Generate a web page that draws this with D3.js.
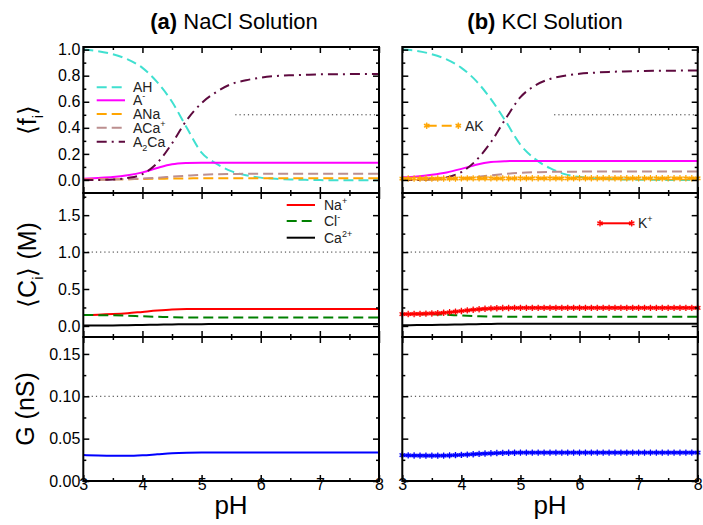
<!DOCTYPE html>
<html>
<head>
<meta charset="utf-8">
<script src="https://cdn.jsdelivr.net/npm/d3@7"></script>
<style>
  body { margin: 0; background: #fff; }
  text { font-family: "Liberation Sans", Arial, Helvetica, sans-serif; }
</style>
</head>
<body>
<div id="chart"></div>
<script>
// ---- data ----
var phGrid = [3, 3.25, 3.5, 3.75, 4, 4.25, 4.5, 4.75, 5, 5.25, 5.5, 5.75, 6, 6.25, 6.5, 6.75, 7, 7.25, 7.5, 7.75, 8];
var phFine = [3.0, 3.1, 3.2, 3.3, 3.4, 3.5, 3.6, 3.7, 3.8, 3.9,
              4.0, 4.1, 4.2, 4.3, 4.4, 4.5, 4.6, 4.7, 4.8, 4.9,
              5.0, 5.1, 5.2, 5.3, 5.4, 5.5, 5.6, 5.7, 5.8, 5.9,
              6.0, 6.1, 6.2, 6.3, 6.4, 6.5, 6.6, 6.7, 6.8, 6.9,
              7.0, 7.1, 7.2, 7.3, 7.4, 7.5, 7.6, 7.7, 7.8, 7.9, 8.0];

// (a) NaCl, fractions
var naclAH   = [1.0, 0.988, 0.965, 0.925, 0.86, 0.75, 0.60, 0.40, 0.21, 0.125, 0.068, 0.036, 0.018, 0.009, 0.004, 0.001, -0.001, -0.002, -0.003, -0.003, -0.003];
var naclA    = [0.01, 0.015, 0.022, 0.036, 0.058, 0.092, 0.12, 0.13, 0.133, 0.133, 0.133, 0.133, 0.133, 0.133, 0.133, 0.133, 0.133, 0.133, 0.133, 0.133, 0.133];
var naclANa  = [0.003, 0.004, 0.005, 0.006, 0.008, 0.009, 0.011, 0.012, 0.013, 0.013, 0.013, 0.013, 0.013, 0.013, 0.013, 0.013, 0.013, 0.013, 0.013, 0.013, 0.013];
var naclACa  = [0.0, 0.001, 0.003, 0.006, 0.01, 0.017, 0.025, 0.033, 0.04, 0.044, 0.046, 0.047, 0.048, 0.048, 0.048, 0.048, 0.048, 0.048, 0.048, 0.048, 0.048];
var naclA2Ca = [0.0, 0.0, 0.003, 0.015, 0.045, 0.13, 0.28, 0.46, 0.59, 0.675, 0.735, 0.765, 0.785, 0.797, 0.803, 0.807, 0.81, 0.811, 0.812, 0.813, 0.813];
// (b) KCl, fractions
var kclAH   = [1.0, 0.99, 0.965, 0.925, 0.86, 0.76, 0.62, 0.45, 0.27, 0.16, 0.09, 0.045, 0.022, 0.012, 0.007, 0.004, 0.002, 0.001, 0.0, 0.0, 0.0];
var kclA    = [0.02, 0.027, 0.04, 0.058, 0.085, 0.116, 0.137, 0.144, 0.146, 0.146, 0.146, 0.146, 0.146, 0.146, 0.146, 0.146, 0.146, 0.146, 0.146, 0.146, 0.146];
var kclACa  = [0.0, 0.002, 0.004, 0.007, 0.012, 0.022, 0.035, 0.047, 0.055, 0.059, 0.062, 0.063, 0.064, 0.064, 0.064, 0.064, 0.064, 0.064, 0.064, 0.064, 0.064];
var kclA2Ca = [0.0, 0.0, 0.005, 0.02, 0.06, 0.15, 0.29, 0.47, 0.635, 0.725, 0.775, 0.8, 0.815, 0.823, 0.829, 0.833, 0.835, 0.837, 0.838, 0.839, 0.84];
var kclAK   = [0.011, 0.011, 0.011, 0.011, 0.011, 0.011, 0.011, 0.011, 0.011, 0.011,
               0.012, 0.012, 0.012, 0.012, 0.012, 0.012, 0.012, 0.012, 0.012, 0.012,
               0.013, 0.013, 0.013, 0.013, 0.013, 0.013, 0.013, 0.013, 0.013, 0.013,
               0.013, 0.013, 0.013, 0.013, 0.013, 0.013, 0.013, 0.013, 0.013, 0.013,
               0.013, 0.013, 0.013, 0.013, 0.013, 0.013, 0.013, 0.013, 0.013, 0.013, 0.013];

// concentrations (M)
var naclNa = [0.148, 0.152, 0.16, 0.172, 0.19, 0.208, 0.222, 0.228, 0.229, 0.229, 0.229, 0.229, 0.229, 0.229, 0.229, 0.229, 0.229, 0.229, 0.229, 0.229, 0.229];
var naclCl = [0.148, 0.146, 0.143, 0.138, 0.13, 0.124, 0.118, 0.115, 0.113, 0.113, 0.113, 0.113, 0.113, 0.113, 0.113, 0.113, 0.113, 0.113, 0.113, 0.113, 0.113];
var naclCa = [0.005, 0.006, 0.007, 0.01, 0.013, 0.017, 0.02, 0.023, 0.024, 0.025, 0.025, 0.025, 0.025, 0.025, 0.025, 0.025, 0.025, 0.025, 0.025, 0.025, 0.025];
var kclK   = [0.16, 0.161, 0.162, 0.164, 0.166, 0.169, 0.173, 0.178, 0.185, 0.193,
              0.202, 0.211, 0.219, 0.226, 0.232, 0.237, 0.24, 0.242, 0.243, 0.244,
              0.245, 0.245, 0.245, 0.245, 0.245, 0.245, 0.245, 0.245, 0.245, 0.245,
              0.245, 0.245, 0.245, 0.245, 0.245, 0.245, 0.245, 0.245, 0.245, 0.245,
              0.245, 0.245, 0.245, 0.245, 0.245, 0.245, 0.245, 0.245, 0.245, 0.245, 0.245];
var kclCl  = [0.16, 0.16, 0.158, 0.151, 0.14, 0.133, 0.128, 0.126, 0.125, 0.125, 0.125, 0.125, 0.125, 0.125, 0.125, 0.125, 0.125, 0.125, 0.125, 0.125, 0.125];
var kclCa  = [0.01, 0.011, 0.013, 0.016, 0.02, 0.024, 0.027, 0.029, 0.03, 0.03, 0.03, 0.03, 0.03, 0.03, 0.03, 0.03, 0.03, 0.03, 0.03, 0.03, 0.03];

// conductance (nS)
var naclG = [0.0306, 0.0300, 0.0297, 0.0297, 0.0303, 0.0315, 0.0327, 0.0333, 0.0335, 0.0335, 0.0335, 0.0335, 0.0335, 0.0335, 0.0335, 0.0335, 0.0335, 0.0335, 0.0335, 0.0335, 0.0335];
var kclG  = [0.0305, 0.0303, 0.0301, 0.0300, 0.0299, 0.0299, 0.0299, 0.0300, 0.0302, 0.0305,
             0.0308, 0.0312, 0.0316, 0.0320, 0.0324, 0.0327, 0.0330, 0.0332, 0.0333, 0.0334,
             0.0335, 0.0335, 0.0335, 0.0335, 0.0335, 0.0335, 0.0335, 0.0335, 0.0335, 0.0335,
             0.0335, 0.0335, 0.0335, 0.0335, 0.0335, 0.0335, 0.0335, 0.0335, 0.0335, 0.0335,
             0.0335, 0.0335, 0.0335, 0.0335, 0.0335, 0.0335, 0.0335, 0.0335, 0.0335, 0.0335, 0.0335];

// ticks
var phTicks = [3, 4, 5, 6, 7, 8];
var phMinor = [3.5, 4.5, 5.5, 6.5, 7.5];
var fracTicks = [0, 0.2, 0.4, 0.6, 0.8, 1.0];
var fracMinor = [0.1, 0.3, 0.5, 0.7, 0.9];
var concTicks = [0, 0.5, 1.0, 1.5];
var concMinor = [0.25, 0.75, 1.25, 1.75];
var condTicks = [0, 0.05, 0.10, 0.15];
var condMinor = [0.025, 0.075, 0.125];

// dotted guide lines: [row, col, y, pH from, pH to]
var guides = [[0, 0, 0.5, 5.57, 8], [0, 1, 0.5, 5.57, 8], [1, 0, 1.0, 3, 8], [1, 1, 1.0, 3, 8], [2, 0, 0.10, 3, 8], [2, 1, 0.10, 3, 8]];

// ---- layout ----
var svg = d3.select("#chart").append("svg").attr("width", 703).attr("height", 525);
var colX = [[83.3, 379], [402.3, 697.7]];
var rowY = [[47, 193], [193, 337], [337, 481]];
var rows = [
  {domain: [-0.1, 1.02], major: fracTicks, minor: fracMinor, fmt: d3.format(".1f")},
  {domain: [-0.15, 1.8], major: concTicks, minor: concMinor, fmt: d3.format(".1f")},
  {domain: [0, 0.17], major: condTicks, minor: condMinor, fmt: d3.format(".2f")}
];

var dash = "10,5";
var dashDot = "10,5,2,5";
var panels = [
  [
    [{x: phGrid, y: naclAH, c: "#40E0D0", d: dash},
     {x: phGrid, y: naclA, c: "#FF00FF"},
     {x: phGrid, y: naclANa, c: "#FFA500", d: dash},
     {x: phGrid, y: naclACa, c: "#BC8F8F", d: dash},
     {x: phGrid, y: naclA2Ca, c: "#5E0A3F", d: dashDot}],
    [{x: phGrid, y: kclAH, c: "#40E0D0", d: dash},
     {x: phGrid, y: kclA, c: "#FF00FF"},
     {x: phGrid, y: kclACa, c: "#BC8F8F", d: dash},
     {x: phGrid, y: kclA2Ca, c: "#5E0A3F", d: dashDot},
     {x: phFine, y: kclAK, c: "#FFA500", d: dash, m: true}]
  ],
  [
    [{x: phGrid, y: naclNa, c: "#FF0000"},
     {x: phGrid, y: naclCl, c: "#008000", d: dash},
     {x: phGrid, y: naclCa, c: "#000000"}],
    [{x: phGrid, y: kclCl, c: "#008000", d: dash},
     {x: phGrid, y: kclCa, c: "#000000"},
     {x: phFine, y: kclK, c: "#FF0000", m: true}]
  ],
  [
    [{x: phGrid, y: naclG, c: "#0000FF"}],
    [{x: phFine, y: kclG, c: "#0000FF", m: true}]
  ]
];

var star = d3.symbol().type(d3.symbolAsterisk).size(28);

function drawMarker(g, px, py, color) {
  g.append("circle").attr("cx", px).attr("cy", py).attr("r", 2.6)
    .attr("fill", color).attr("opacity", 0.35);
  g.append("path").attr("d", star).attr("transform", "translate(" + px + "," + py + ")")
    .attr("fill", "none").attr("stroke", color).attr("stroke-width", 1.2);
}

function styleAxis(a) {
  a.select(".domain").remove();
  a.attr("font-family", null).attr("font-size", null);
  a.selectAll("line").attr("stroke", "#000").attr("stroke-width", 1.5);
  a.selectAll("text").attr("font-size", 16).attr("fill", "#000");
}

rows.forEach(function(row, r) {
  colX.forEach(function(cx, c) {
    var x = d3.scaleLinear().domain([3, 8]).range(cx);
    var y = d3.scaleLinear().domain(row.domain).range([rowY[r][1], rowY[r][0]]);
    var g = svg.append("g");
    var clipId = "clip" + r + c;
    svg.append("clipPath").attr("id", clipId).append("rect")
      .attr("x", cx[0]).attr("y", rowY[r][0] - 2).attr("width", cx[1] - cx[0]).attr("height", rowY[r][1] - rowY[r][0] + 4);

    // dotted guides
    guides.filter(function(q) { return q[0] === r && q[1] === c; }).forEach(function(q) {
      g.append("line").attr("x1", x(q[3])).attr("x2", x(q[4])).attr("y1", y(q[2])).attr("y2", y(q[2]))
        .attr("stroke", "#333").attr("stroke-width", 1).attr("stroke-dasharray", "1.2,3");
    });

    var line = d3.line().x(function(d) { return x(d[0]); }).y(function(d) { return y(d[1]); })
      .curve(d3.curveMonotoneX);
    panels[r][c].forEach(function(s) {
      var pts = d3.zip(s.x, s.y);
      g.append("path").datum(pts).attr("d", line).attr("clip-path", "url(#" + clipId + ")")
        .attr("fill", "none").attr("stroke", s.c).attr("stroke-width", 2)
        .attr("stroke-dasharray", s.d || null);
      if (s.m) {
        var mg = g.append("g");
        pts.forEach(function(p) { drawMarker(mg, x(p[0]), y(p[1]), s.c); });
      }
    });

    // axes, ticks inward on all sides
    var left = d3.axisLeft(y).tickValues(row.major).tickSize(-6).tickPadding(3)
      .tickFormat(c === 0 ? row.fmt : "");
    styleAxis(g.append("g").attr("transform", "translate(" + cx[0] + ",0)").call(left));
    styleAxis(g.append("g").attr("transform", "translate(" + cx[0] + ",0)")
      .call(d3.axisLeft(y).tickValues(row.minor).tickSize(-3).tickFormat("")));
    styleAxis(g.append("g").attr("transform", "translate(" + cx[1] + ",0)")
      .call(d3.axisRight(y).tickValues(row.major).tickSize(-6).tickFormat("")));
    styleAxis(g.append("g").attr("transform", "translate(" + cx[1] + ",0)")
      .call(d3.axisRight(y).tickValues(row.minor).tickSize(-3).tickFormat("")));

    var bottom = d3.axisBottom(x).tickValues(phTicks).tickSize(-6).tickPadding(-2)
      .tickFormat(r === 2 ? d3.format("d") : "");
    styleAxis(g.append("g").attr("transform", "translate(0," + rowY[r][1] + ")").call(bottom));
    styleAxis(g.append("g").attr("transform", "translate(0," + rowY[r][1] + ")")
      .call(d3.axisBottom(x).tickValues(phMinor).tickSize(-3).tickFormat("")));
    styleAxis(g.append("g").attr("transform", "translate(0," + rowY[r][0] + ")")
      .call(d3.axisTop(x).tickValues(phTicks).tickSize(-6).tickFormat("")));
    styleAxis(g.append("g").attr("transform", "translate(0," + rowY[r][0] + ")")
      .call(d3.axisTop(x).tickValues(phMinor).tickSize(-3).tickFormat("")));

    g.append("rect").attr("x", cx[0]).attr("y", rowY[r][0])
      .attr("width", cx[1] - cx[0]).attr("height", rowY[r][1] - rowY[r][0])
      .attr("fill", "none").attr("stroke", "#000").attr("stroke-width", 2);
  });
});

// ---- rich text helper: parts are [text, "sup"|"sub"|""] ----
function richText(t, parts, small) {
  var big = parseFloat(t.attr("font-size"));
  var shift = 0;
  parts.forEach(function(p) {
    var target = p[1] === "sup" ? -0.42 * big : p[1] === "sub" ? 0.28 * big : 0;
    var ts = t.append("tspan").text(p[0]).attr("dy", (target - shift) + "px");
    if (p[1]) ts.attr("font-size", small);
    shift = target;
  });
}

// titles
var t1 = svg.append("text").attr("x", 234).attr("y", 29).attr("text-anchor", "middle").attr("font-size", 22);
t1.append("tspan").attr("font-weight", "bold").text("(a)");
t1.append("tspan").text(" NaCl Solution");
var t2 = svg.append("text").attr("x", 545).attr("y", 29).attr("text-anchor", "middle").attr("font-size", 22);
t2.append("tspan").attr("font-weight", "bold").text("(b)");
t2.append("tspan").text(" KCl Solution");

// y titles
var yTitles = [
  {x: 36, y: 120, parts: [["\u27E8f", ""], ["i", "sub"], ["\u27E9", ""]]},
  {x: 36, y: 265, parts: [["\u27E8C", ""], ["i", "sub"], ["\u27E9 (M)", ""]]},
  {x: 34, y: 409, parts: [["G (nS)", ""]]}
];
yTitles.forEach(function(yt) {
  var t = svg.append("text").attr("text-anchor", "middle").attr("font-size", 25)
    .attr("transform", "translate(" + yt.x + "," + yt.y + ") rotate(-90)");
  richText(t, yt.parts, 15);
});

// x titles
[231, 550].forEach(function(cxm) {
  svg.append("text").attr("x", cxm).attr("y", 514).attr("text-anchor", "middle")
    .attr("font-size", 26).text("pH");
});

// ---- legends ----
var legTop = [
  {c: "#40E0D0", d: dash, parts: [["AH", ""]]},
  {c: "#FF00FF", parts: [["A", ""], ["-", "sup"]]},
  {c: "#FFA500", d: dash, parts: [["ANa", ""]]},
  {c: "#BC8F8F", d: dash, parts: [["ACa", ""], ["+", "sup"]]},
  {c: "#5E0A3F", d: dashDot, parts: [["A", ""], ["2", "sub"], ["Ca", ""]]}
];
var legTopY = [87.3, 100.3, 114, 127.7, 141.7];
var legMid = [
  {c: "#FF0000", parts: [["Na", ""], ["+", "sup"]]},
  {c: "#008000", d: dash, parts: [["Cl", ""], ["-", "sup"]]},
  {c: "#000000", parts: [["Ca", ""], ["2+", "sup"]]}
];
var legMidY = [205, 221, 237.7];

function legendRow(x0, x1, yy, e, tx, markers) {
  svg.append("line").attr("x1", x0).attr("x2", x1).attr("y1", yy).attr("y2", yy)
    .attr("stroke", e.c).attr("stroke-width", 2).attr("stroke-dasharray", e.d || null);
  if (markers) { drawMarker(svg, x0, yy, e.c); drawMarker(svg, x1, yy, e.c); }
  var t = svg.append("text").attr("x", tx).attr("y", yy + 5).attr("font-size", 14).attr("fill", "#222");
  richText(t, e.parts, 9);
}
legTop.forEach(function(e, i) { legendRow(96.7, 125, legTopY[i], e, 133, false); });
legMid.forEach(function(e, i) { legendRow(286.7, 315, legMidY[i], e, 324, false); });
legendRow(426.7, 458.3, 125.7, {c: "#FFA500", d: dash, parts: [["AK", ""]]}, 465, true);
legendRow(600, 631.7, 223.3, {c: "#FF0000", parts: [["K", ""], ["+", "sup"]]}, 638, true);
</script>
</body>
</html>
